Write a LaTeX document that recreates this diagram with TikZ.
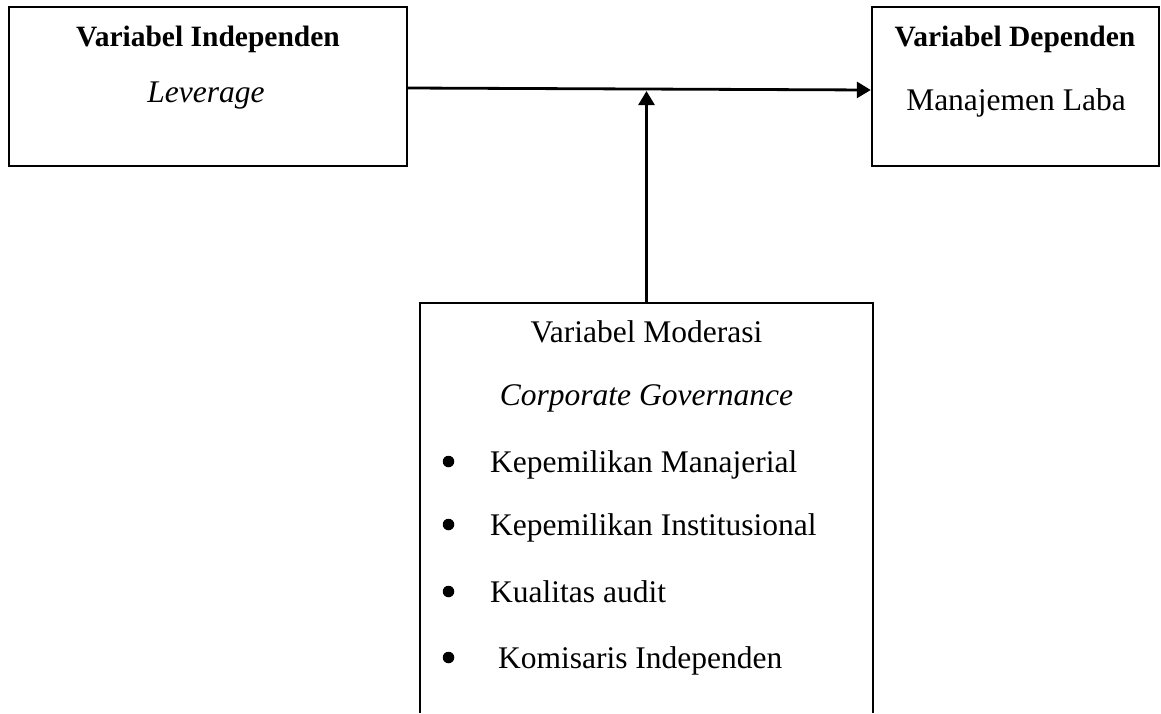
\documentclass[tikz,border=0pt]{standalone}
\usepackage{fontspec}
\setmainfont{Liberation Serif}
\usetikzlibrary{arrows.meta}

\begin{document}
\begin{tikzpicture}[x=1pt,y=-1pt,
    varbox/.style={draw,line width=2.4pt,inner sep=0,minimum height=159pt},
    lbl/.style={anchor=base,inner sep=0,font=\fontsize{31.5}{38}\selectfont},
    head/.style={anchor=base,inner sep=0,font=\fontsize{29.5}{36}\selectfont\bfseries},
    dot/.style={circle,fill=black,draw=none,inner sep=0,minimum size=11.5pt},
    arrow/.style={line width=2.8pt,-{Triangle[length=14pt,width=16pt]}}]
    \useasboundingbox (0,0) rectangle (1161,713);

    % Draw the boxes for the independent and dependent variables
    \node[varbox,minimum width=398pt] (indep) at (208,86.5) {};
    \node[varbox,minimum width=287pt] (dep) at (1015.5,86.5) {};

    % Texts in the top boxes
    \node[head] (indeptitle) at (208,46) {Variabel Independen};
    \node[lbl] (lev) at (206,102) {\textit{Leverage}};
    \node[head] (deptitle) at (1015,46) {Variabel Dependen};
    \node[lbl] (laba) at (1016,110) {Manajemen Laba};

    % Moderating box, open at the bottom
    \node[inner sep=0,minimum width=453pt,minimum height=410pt] (mod) at (646.5,508) {};
    \draw[line width=2.4pt] (mod.south west) -- (mod.north west) -- (mod.north east) -- (mod.south east);

    \node[lbl] (modtitle) at (646.5,342) {Variabel Moderasi};
    \node[lbl] (cg) at (646.5,405) {\textit{Corporate Governance}};

    % Bulleted entries
    \node[dot] (b1) at (448.5,461.5) {};
    \node[lbl,anchor=base west] (km) at (490,472) {Kepemilikan Manajerial};
    \node[dot] (b2) at (448.5,524.5) {};
    \node[lbl,anchor=base west] (ki) at (490,535) {Kepemilikan Institusional};
    \node[dot] (b3) at (448.5,591.5) {};
    \node[lbl,anchor=base west] (ka) at (490,602) {Kualitas audit};
    \node[dot] (b4) at (448.5,657.5) {};
    \node[lbl,anchor=base west] (kom) at (490,668) {\ Komisaris Independen};

    % Arrows
    \draw[arrow] ([yshift=-1.5pt]indep.east) -- coordinate[pos=0.515] (meet) ([yshift=-3.5pt]dep.west);
    \draw[arrow] (mod.north) -- ([yshift=-2pt]mod.north |- meet);
\end{tikzpicture}
\end{document}
